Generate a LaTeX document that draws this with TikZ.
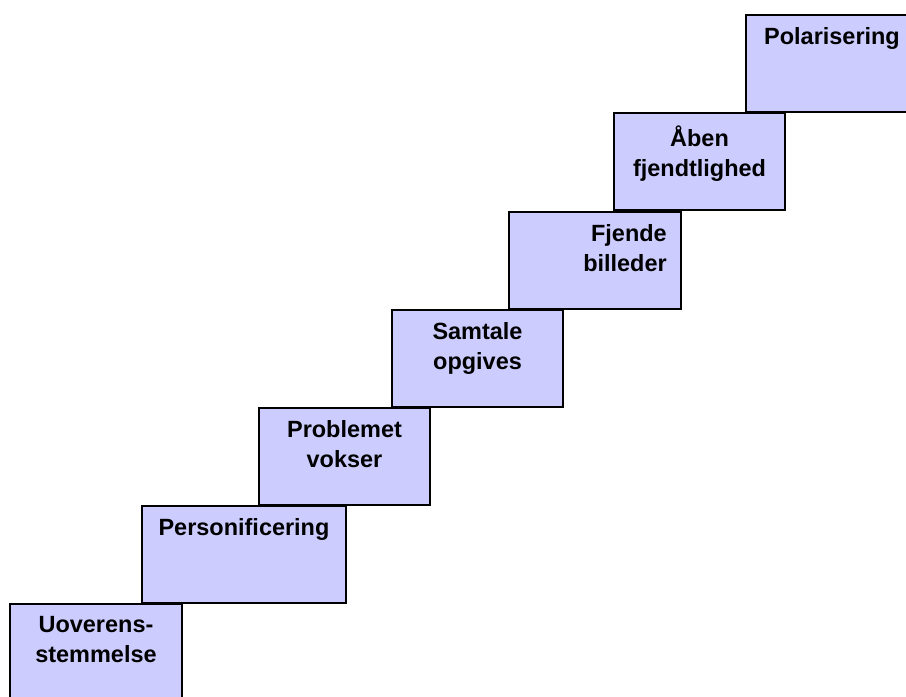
\documentclass[tikz,border=0pt]{standalone}
\usepackage{fontspec}
\setmainfont{Liberation Sans}
\definecolor{boxfill}{HTML}{CCCCFF}
\tikzset{
  stepbox/.style={draw=black, fill=boxfill, line width=1.5pt, rectangle, inner sep=0pt, outer sep=0pt, anchor=north west},
  steptext/.style={font=\bfseries\fontsize{17.6}{22.5}\selectfont, align=center, inner sep=0pt, anchor=north, yshift=-9.4pt},
}
\begin{document}
\begin{tikzpicture}[x=0.75pt, y=-0.75pt]
\useasboundingbox (0,0) rectangle (906,696);
\clip (0,0) rectangle (906,696);
\node[stepbox, minimum width=129pt, minimum height=75pt] (b1) at (10,604) {};
\node[stepbox, minimum width=153pt, minimum height=72.75pt] (b2) at (142,506) {};
\node[stepbox, minimum width=128.25pt, minimum height=72.75pt] (b3) at (259,408) {};
\node[stepbox, minimum width=128.25pt, minimum height=72.75pt] (b4) at (392,310) {};
\node[stepbox, minimum width=129pt, minimum height=72.75pt] (b5) at (509,212) {};
\node[stepbox, minimum width=128.25pt, minimum height=72.75pt] (b6) at (614,113) {};
\node[stepbox, minimum width=129pt, minimum height=72.75pt] (b7) at (746,15) {};

\node[steptext] (t1) at (b1.north) {Uoverens-\\stemmelse};
\node[steptext] (t2) at (b2.north) {Personificering};
\node[steptext] (t3) at (b3.north) {Problemet\\vokser};
\node[steptext] (t4) at (b4.north) {Samtale\\opgives};
\node[steptext, align=right, anchor=north east, xshift=-10.5pt] (t5) at (b5.north east) {Fjende\\billeder};
\node[steptext] (t6) at (b6.north) {Åben\\fjendtlighed};
\node[steptext] (t7) at (b7.north) {Polarisering};
\end{tikzpicture}
\end{document}
